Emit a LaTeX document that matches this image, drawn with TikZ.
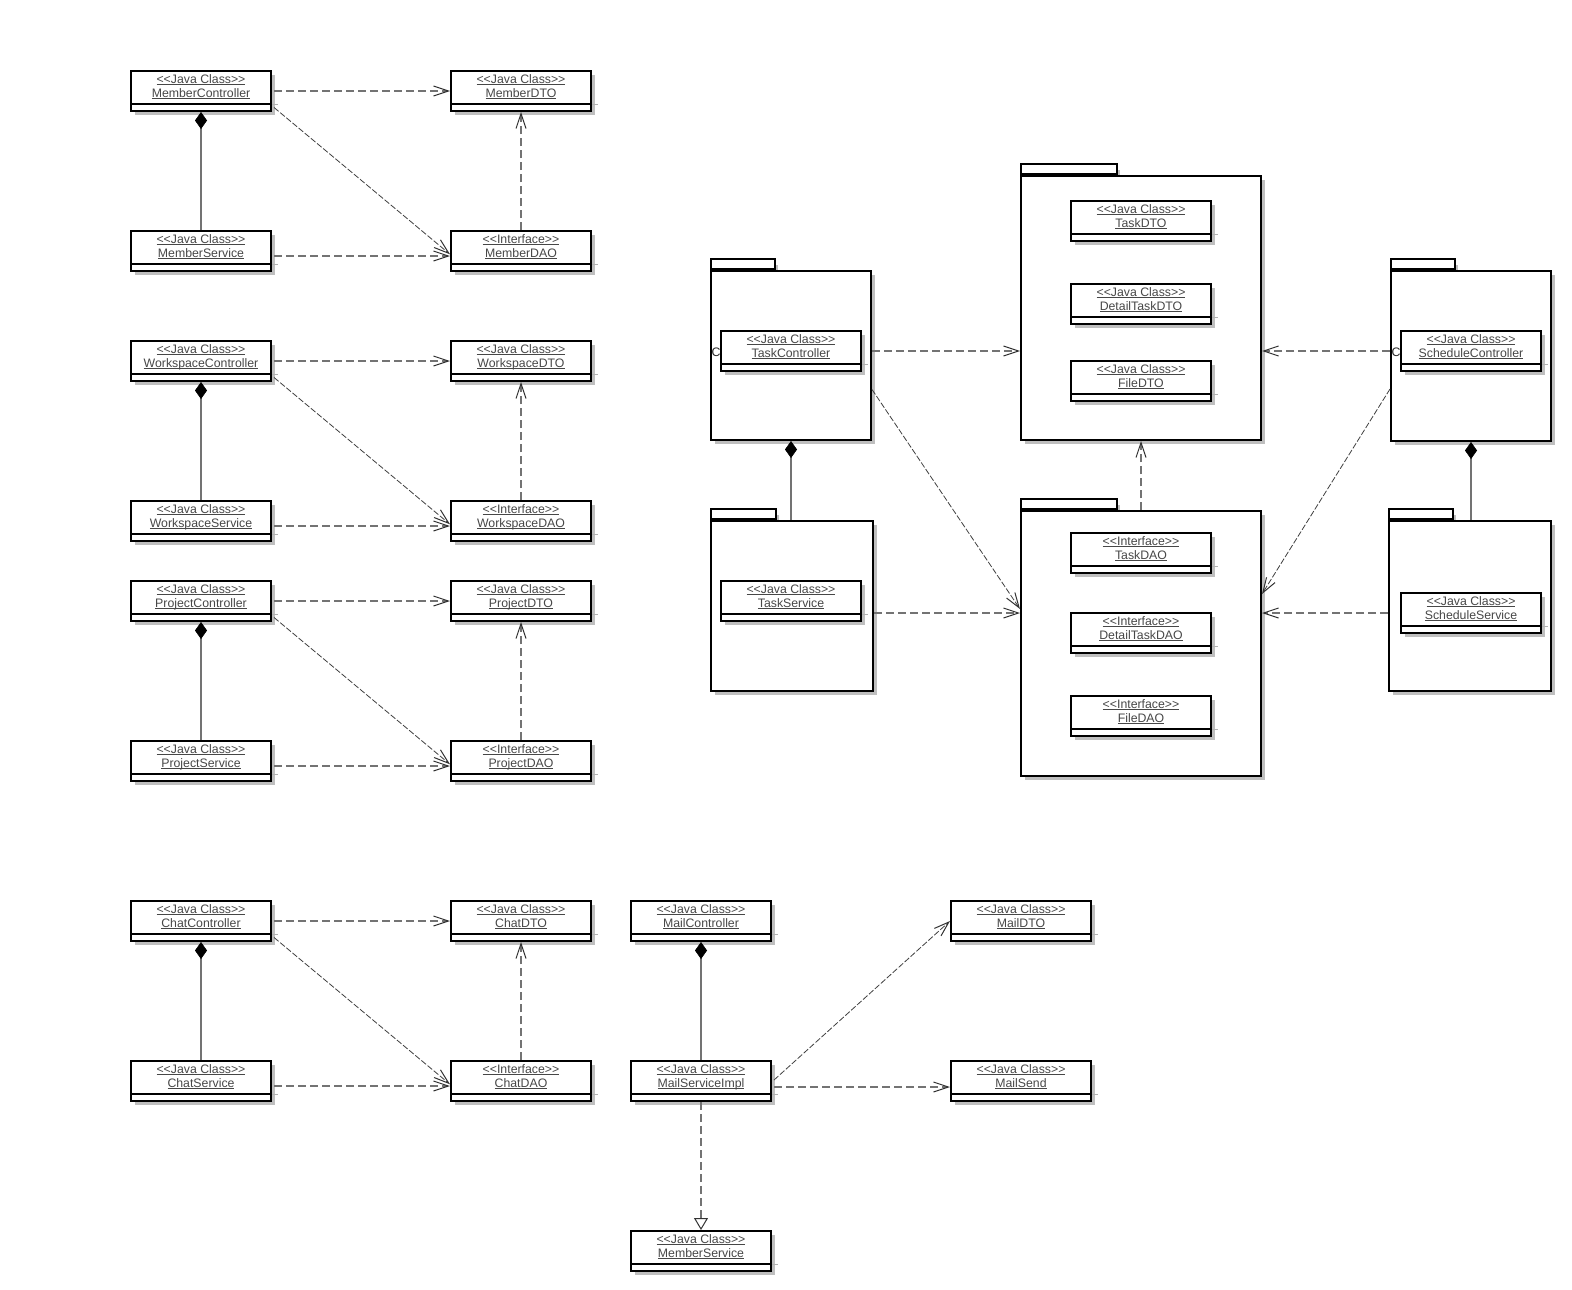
\documentclass[tikz,border=0pt]{standalone}
\usepackage{fontspec}
\setmainfont{Liberation Sans}
\usetikzlibrary{arrows.meta}

% underlined label text with the rule at a fixed depth
\newcommand\undertext[1]{\setbox0=\hbox{#1}\rlap{\rule[-1.8pt]{\wd0}{0.85pt}}\box0}
% <<stereotype>> without the guillemet mapping
\newcommand\stereo[1]{<\kern0pt<#1>\kern0pt>}

\tikzset{
  x=1pt, y=-1pt,
  shade/.style={fill=black!25},
  classbox/.style={draw=black, line width=2pt, fill=white, minimum width=140pt,
    minimum height=40pt, inner sep=0pt, anchor=north west},
  classdiv/.style={draw=black, line width=2pt},
  stub/.style={draw=black!30, line width=0.8pt},
  umltext/.style={font=\fontsize{12.3pt}{14pt}\selectfont, text=black!72,
    inner sep=0pt, anchor=base},
  cmark/.style={font=\fontsize{12.3pt}{14pt}\selectfont, text=black!85,
    inner sep=0pt, anchor=base},
  pkgtab/.style={draw=black, line width=1.8pt, fill=white, inner sep=0pt,
    minimum height=10pt, anchor=south west},
  pkgbox/.style={draw=black, line width=2pt, fill=white, inner sep=0pt,
    anchor=north west},
  barb/.style={-{Straight Barb[length=15pt,width=10pt,line width=1pt,color=black!80]}},
  dep/.style={draw=black!55, line width=2pt, dash pattern=on 8pt off 4pt, barb},
  depthin/.style={draw=black!75, line width=0.8pt, dash pattern=on 6pt off 2pt, barb},
  comp/.style={draw=black!55, line width=2pt,
    -{Diamond[length=17pt,width=12pt,color=black,fill=black,line width=0.5pt]}},
  real/.style={draw=black!55, line width=2pt, dash pattern=on 8pt off 4pt,
    -{Triangle[length=12pt,width=14pt,color=black!80,fill=white,line width=1pt]}},
}

% class box: node name, left, top, stereotype, class name
\newcommand\umlclass[5]{%
  \fill[shade] (#2+5,#3+5) rectangle ++(140,40);
  \node[classbox] (#1) at (#2,#3) {};
  \draw[classdiv] ([yshift=8pt]#1.south west) -- ([yshift=8pt]#1.south east);
  \draw[stub] ([yshift=8pt]#1.south east) -- ++(6,0);
  \node[umltext] (#1-st) at ([yshift=-13.3pt]#1.north) {\undertext{\stereo{#4}}};
  \node[umltext] (#1-nm) at ([yshift=-27.3pt]#1.north) {\undertext{#5}};
}

% package: node name, left, top, right, bottom, tab width
\newcommand\umlpackage[6]{%
  \fill[shade] (#2+#6,#3-5) rectangle (#2+#6+4,#3);
  \fill[shade] (#2+5,#3+5) rectangle (#4+5,#5+5);
  \node[pkgtab, minimum width=#6] (#1-tab) at (#2,#3) {};
  \node[pkgbox, minimum width=#4-#2, minimum height=#5-#3] (#1) at (#2,#3) {};
}

\begin{document}
\begin{tikzpicture}
\fill[white] (0,0) rectangle (1572,1290);
\useasboundingbox (0,0) rectangle (1572,1290);

% ---------- member / workspace / project / chat layers ----------
\umlclass{mctl}{130}{70}{Java Class}{MemberController}
\umlclass{mdto}{450}{70}{Java Class}{MemberDTO}
\umlclass{msvc}{130}{230}{Java Class}{MemberService}
\umlclass{mdao}{450}{230}{Interface}{MemberDAO}

\umlclass{wctl}{130}{340}{Java Class}{WorkspaceController}
\umlclass{wdto}{450}{340}{Java Class}{WorkspaceDTO}
\umlclass{wsvc}{130}{500}{Java Class}{WorkspaceService}
\umlclass{wdao}{450}{500}{Interface}{WorkspaceDAO}

\umlclass{pctl}{130}{580}{Java Class}{ProjectController}
\umlclass{pdto}{450}{580}{Java Class}{ProjectDTO}
\umlclass{psvc}{130}{740}{Java Class}{ProjectService}
\umlclass{pdao}{450}{740}{Interface}{ProjectDAO}

\umlclass{cctl}{130}{900}{Java Class}{ChatController}
\umlclass{cdto}{450}{900}{Java Class}{ChatDTO}
\umlclass{csvc}{130}{1060}{Java Class}{ChatService}
\umlclass{cdao}{450}{1060}{Interface}{ChatDAO}

\foreach \p in {m,w,p,c}{
  \draw[comp] (\p svc.north) -- (\p ctl.south);
  \draw[dep] ([shift={(2,0)}]\p ctl.east) -- (\p dto.west);
  \draw[depthin] ([shift={(2,16.5)}]\p ctl.east) -- ([shift={(0,3.3)}]\p dao.west);
  \draw[dep] ([shift={(2,5)}]\p svc.east) -- ([shift={(0,5)}]\p dao.west);
  \draw[dep] (\p dao.north) -- (\p dto.south);
}

% ---------- mail ----------
\umlclass{mlctl}{630}{900}{Java Class}{MailController}
\umlclass{mldto}{950}{900}{Java Class}{MailDTO}
\umlclass{mlsvc}{630}{1060}{Java Class}{MailServiceImpl}
\umlclass{mlsend}{950}{1060}{Java Class}{MailSend}
\umlclass{mlmem}{630}{1230}{Java Class}{MemberService}

\draw[comp] (mlsvc.north) -- (mlctl.south);
\draw[depthin] ([shift={(2,-1)}]mlsvc.east) -- (mldto.west);
\draw[dep] ([shift={(2,6)}]mlsvc.east) -- ([shift={(0,6)}]mlsend.west);
\draw[real] (mlsvc.south) -- (mlmem.north);

% ---------- task / schedule packages ----------
\umlpackage{pkgTC}{710}{270}{870}{439}{64}
\umlpackage{pkgTS}{710}{520}{872}{690}{65}
\umlpackage{pkgDTO}{1020}{175}{1260}{439}{96}
\umlpackage{pkgDAO}{1020}{510}{1260}{775}{96}
\umlpackage{pkgSC}{1390}{270}{1550}{440}{64}
\umlpackage{pkgSS}{1388}{520}{1550}{690}{64}

\node[cmark] (tcC) at (716,356.5) {C};
\node[cmark] (scC) at (1396,356.5) {C};

\umlclass{tctl}{720}{330}{Java Class}{TaskController}
\umlclass{tsvc}{720}{580}{Java Class}{TaskService}
\umlclass{tdto}{1070}{200}{Java Class}{TaskDTO}
\umlclass{dtdto}{1070}{283}{Java Class}{DetailTaskDTO}
\umlclass{fdto}{1070}{360}{Java Class}{FileDTO}
\umlclass{tdao}{1070}{532}{Interface}{TaskDAO}
\umlclass{dtdao}{1070}{612}{Interface}{DetailTaskDAO}
\umlclass{fdao}{1070}{695}{Interface}{FileDAO}
\umlclass{sctl}{1400}{330}{Java Class}{ScheduleController}
\umlclass{ssvc}{1400}{592}{Java Class}{ScheduleService}

\draw[comp] (pkgTC.south |- pkgTS.north) -- (pkgTC.south);
\draw[comp] (pkgSC.south |- pkgSS.north) -- (pkgSC.south);
\draw[dep] (tctl.center -| pkgTC.east) -- (tctl.center -| pkgDTO.west);
\draw[depthin] ([yshift=-34pt]pkgTC.east) -- ([yshift=34.5pt]pkgDAO.west);
\draw[dep] ([yshift=-7pt]pkgTS.east) -- ([yshift=-7pt]pkgTS.east -| pkgDAO.west);
\draw[dep] (sctl.center -| pkgSC.west) -- (sctl.center -| pkgDTO.east);
\draw[depthin] ([yshift=-33pt]pkgSC.west) -- ([yshift=49.5pt]pkgDAO.east);
\draw[dep] ([yshift=-7pt]pkgSS.west) -- ([yshift=-7pt]pkgSS.west -| pkgDAO.east);
\draw[dep] (pkgDAO.north) -- (pkgDTO.south);
\end{tikzpicture}
\end{document}
